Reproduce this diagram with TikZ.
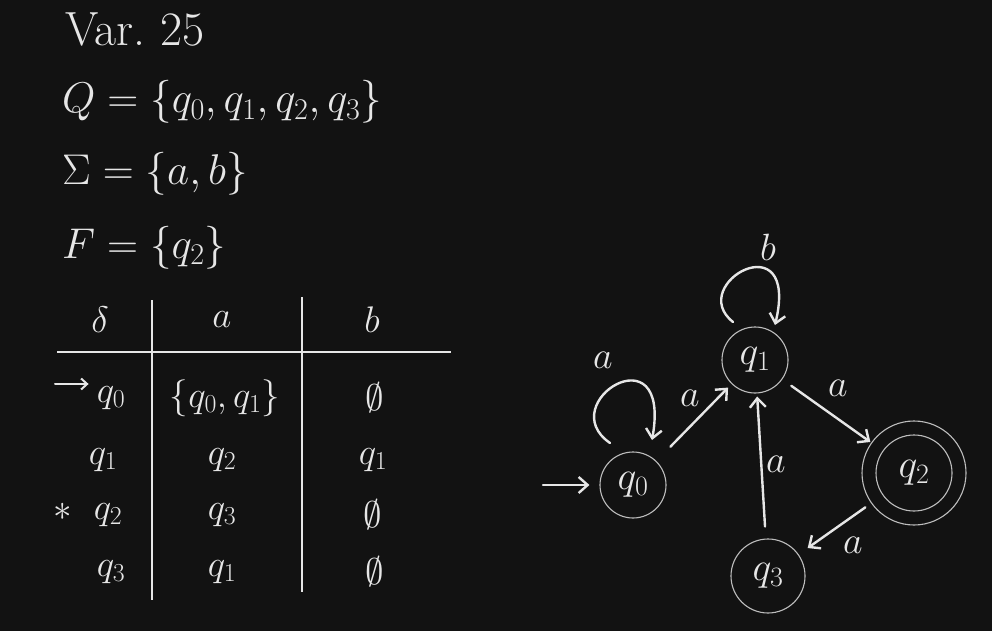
\RequirePackage{fix-cm}
\documentclass[tikz,border=0pt]{standalone}
\usetikzlibrary{arrows.meta}
\definecolor{bg}{HTML}{121212}
\definecolor{ink}{HTML}{E6E6E6}
\definecolor{ring}{HTML}{BDBDBD}
\begin{document}
\begin{tikzpicture}[x=1pt,y=-1pt,
  every node/.style={text=ink},
  defline/.style={anchor=base west, inner sep=0pt, font=\fontsize{43}{46}\selectfont},
  cell/.style={inner sep=0pt, font=\fontsize{37}{40}\selectfont},
  state/.style={circle, draw=ring, line width=1.1pt, minimum size=66pt, inner sep=0pt, font=\fontsize{40}{42}\selectfont},
  edge/.style={draw=ink, line width=2.4pt, -{Straight Barb[length=9pt,width=16pt]}, line cap=round},
  rulel/.style={draw=ink, line width=2.4pt},
  lbl/.style={inner sep=0pt, font=\fontsize{38}{40}\selectfont}]
\fill[bg] (0,0) rectangle (992,631);
\useasboundingbox (0,0) rectangle (992,631);

% definitions
\node[defline, font=\fontsize{48}{50}\selectfont] (var) at (65,46) {Var.\ 25};
\node[defline] (Q) at (62,113) {$Q=\{q_0,q_1,q_2,q_3\}$};
\node[defline] (S) at (62,184) {$\Sigma=\{a,b\}$};
\node[defline] (F) at (62,258) {$F=\{q_2\}$};

% table
\node[cell] (hd) at (100,320) {$\delta$};
\node[cell] (ha) at (222,320) {$a$};
\node[cell] (hb) at (372,320) {$b$};
\coordinate (hl1) at (57,352);
\coordinate (hl2) at (451,352);
\coordinate (v1a) at (152,300);
\coordinate (v1b) at (152,600);
\coordinate (v2a) at (302,297);
\coordinate (v2b) at (302,592);
\draw[rulel] (hl1) -- (hl2);
\draw[rulel] (v1a) -- (v1b);
\draw[rulel] (v2a) -- (v2b);

\node[cell] (r0) at (111,398) {$q_0$};
\node[cell] (r0a) at (225,398) {$\{q_0,q_1\}$};
\node[cell] (r0b) at (375,398) {$\emptyset$};
\node[cell] (r1) at (103,460) {$q_1$};
\node[cell] (r1a) at (222,460) {$q_2$};
\node[cell] (r1b) at (373,460) {$q_1$};
\node[cell] (star) at (63,512) {$\ast$};
\node[cell] (r2) at (108,515) {$q_2$};
\node[cell] (r2a) at (222,515) {$q_3$};
\node[cell] (r2b) at (373,515) {$\emptyset$};
\node[cell] (r3) at (111,572) {$q_3$};
\node[cell] (r3a) at (222,572) {$q_1$};
\node[cell] (r3b) at (375,572) {$\emptyset$};
\coordinate (tin) at (55,384);
\draw[edge, line width=2pt, -{Straight Barb[length=6pt,width=11pt]}, shorten >=8pt] (tin) -- (tin -| r0.west);

% automaton
\node[state] (q0) at (633,485) {$q_0$};
\node[state] (q1) at (755,360) {$q_1$};
\node[state, minimum size=104pt] (q2) at (914,473) {$q_2$};
\draw[ring, line width=1.1pt] (q2) circle (38);
\node[state, minimum size=74pt] (q3) at (768,576) {$q_3$};
\coordinate (init) at (543,485);

\draw[edge, shorten >=10pt] (init) -- (q0);
\draw[edge] ([shift={(-23,-42)}]q0.center) .. controls +(-58,-40) and +(20,-112) .. ([shift={(19,-45)}]q0.center);
\draw[edge] ([shift={(-22,-38)}]q1.center) .. controls +(-48,-38) and +(25,-105) .. ([shift={(20,-35)}]q1.center);
\draw[edge, shorten <=20pt, shorten >=5pt] (q0) -- (q1);
\draw[edge, shorten <=12pt, shorten >=3pt] (q3) -- (q1);
\draw[edge, shorten <=11pt, shorten >=1pt] (q1) -- (q2);
\draw[edge, shorten <=7pt, shorten >=11pt] (q2) -- (q3);

\node[lbl] (l00) at (603,360) {$a$};
\node[lbl] (l11) at (768,247) {$b$};
\node[lbl] (l01) at (690,398) {$a$};
\node[lbl] (l31) at (776,464) {$a$};
\node[lbl] (l12) at (838,388) {$a$};
\node[lbl] (l23) at (853,545) {$a$};
\end{tikzpicture}
\end{document}
